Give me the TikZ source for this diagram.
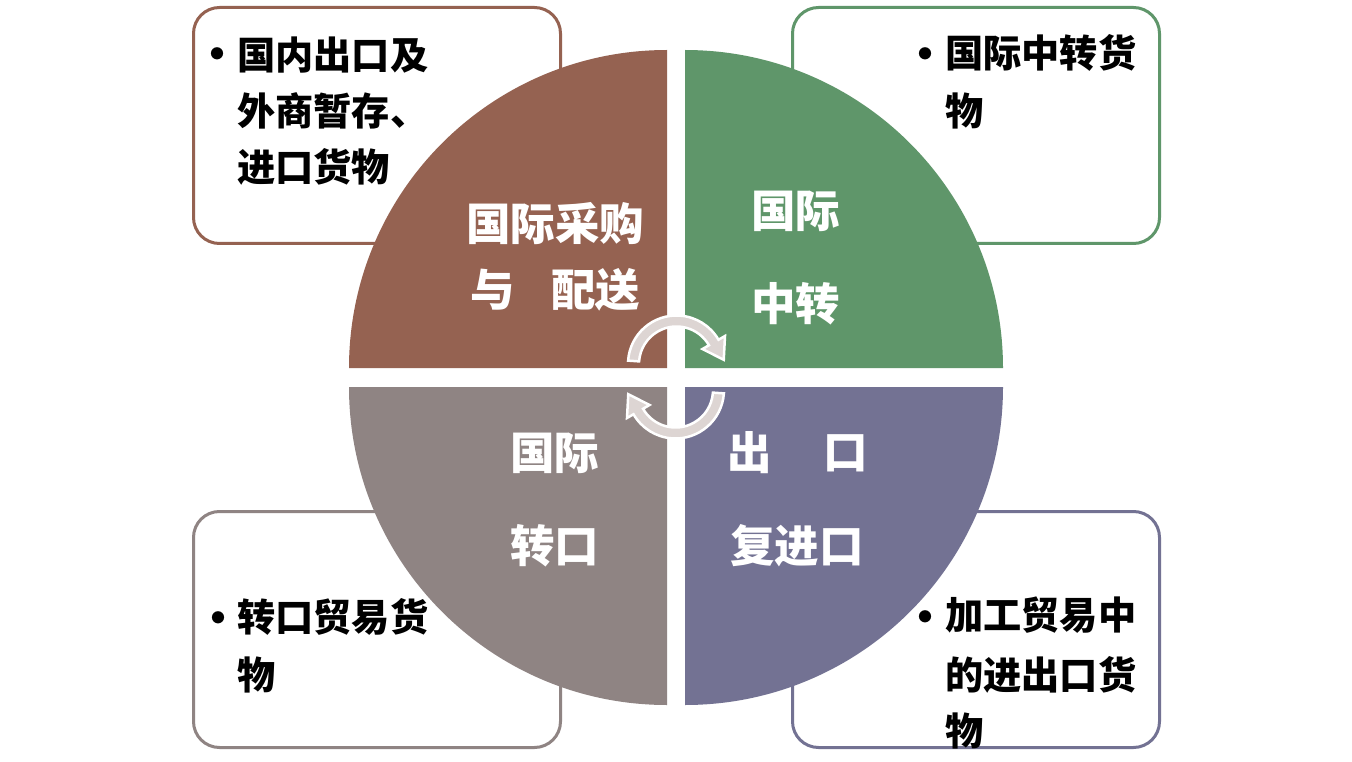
\documentclass[tikz,border=0pt]{standalone}
\usepackage{fontspec}
\setmainfont{Noto Sans CJK SC}
\usetikzlibrary{calc}
\definecolor{qbrown}{HTML}{956251}
\definecolor{qgreen}{HTML}{5F966A}
\definecolor{qgray}{HTML}{8F8483}
\definecolor{qpurple}{HTML}{737293}
\definecolor{arrowc}{HTML}{DDD5D3}
\begin{document}
\begin{tikzpicture}[x=1pt,y=-1pt,
  boxtxt/.style={font=\fontsize{38.2}{44}\selectfont\bfseries, text=black, inner sep=0pt, anchor=west},
  bullettxt/.style={font=\fontsize{44}{50}\selectfont\bfseries, text=black, inner sep=0pt, anchor=center},
  qtxt/.style={font=\fontsize{44.5}{50}\selectfont\bfseries, text=white, inner sep=0pt, anchor=west},
  infobox/.style={line width=3pt, fill=white, rounded corners=26pt},
  arrowband/.style={fill=arrowc, draw=white, line width=2.5pt, line join=miter}]
\useasboundingbox (0,0) rectangle (1352,762);
\fill[white] (0,0) rectangle (1352,762);
% info boxes
\draw[infobox, draw=qbrown] (193.5,7.5) rectangle (560.5,243.5);
\draw[infobox, draw=qgreen] (792.5,7.5) rectangle (1159.5,243.5);
\draw[infobox, draw=qgray] (193.5,511.5) rectangle (560.5,747.5);
\draw[infobox, draw=qpurple] (792.5,511.5) rectangle (1159.5,747.5);
% quadrants
\fill[qbrown] (667,368) -- (349,368) arc[start angle=180,end angle=270,radius=318] -- cycle;
\fill[qgreen] (685,368) -- (685,50) arc[start angle=270,end angle=360,radius=318] -- cycle;
\fill[qpurple] (685,387) -- (1003,387) arc[start angle=0,end angle=90,radius=318] -- cycle;
\fill[qgray] (667,387) -- (667,705) arc[start angle=90,end angle=180,radius=318] -- cycle;
% circular arrows
\coordinate (c1) at (676.5,364);
\coordinate (c2) at (675.5,390);
\draw[arrowband] ($(c1)+(184:48.5)$) arc[start angle=184,end angle=330,radius=48.5]
  -- ($(c1)+(330:56)$) -- ($(c1)+(330:43)+(60:20)$) -- ($(c1)+(330:30)$)
  -- ($(c1)+(330:37.5)$) arc[start angle=330,end angle=184,radius=37.5] -- cycle;
\draw[arrowband] ($(c2)+(4:48.5)$) arc[start angle=4,end angle=150,radius=48.5]
  -- ($(c2)+(150:56)$) -- ($(c2)+(150:43)+(240:20)$) -- ($(c2)+(150:30)$)
  -- ($(c2)+(150:37.5)$) arc[start angle=150,end angle=4,radius=37.5] -- cycle;
% quadrant labels
\node[qtxt] (q1a) at (466,223.5) {国际采购};
\node[qtxt] (q1b) at (470,290) {与};
\node[qtxt] (q1c) at (551,290) {配送};
\node[qtxt] (q2a) at (751,211) {国际};
\node[qtxt] (q2b) at (751,304) {中转};
\node[qtxt] (q3a) at (510,453) {国际};
\node[qtxt] (q3b) at (510,546) {转口};
\node[qtxt] (q4a) at (727,453) {出};
\node[qtxt] (q4b) at (823,453) {口};
\node[qtxt] (q4c) at (730,546) {复进口};
% box texts
\node[bullettxt] (b1) at (217,59) {•};
\node[boxtxt] (t1a) at (237,55) {国内出口及};
\node[boxtxt] (t1b) at (237,111) {外商暂存、};
\node[boxtxt] (t1c) at (237,167) {进口货物};
\node[bullettxt] (b2) at (925,59) {•};
\node[boxtxt] (t2a) at (945,53) {国际中转货};
\node[boxtxt] (t2b) at (945,111) {物};
\node[bullettxt] (b3) at (218,623) {•};
\node[boxtxt] (t3a) at (237,617) {转口贸易货};
\node[boxtxt] (t3b) at (237,675) {物};
\node[bullettxt] (b4) at (925,622) {•};
\node[boxtxt] (t4a) at (945,615) {加工贸易中};
\node[boxtxt] (t4b) at (945,675) {的进出口货};
\node[boxtxt] (t4c) at (945,731) {物};
\end{tikzpicture}
\end{document}
